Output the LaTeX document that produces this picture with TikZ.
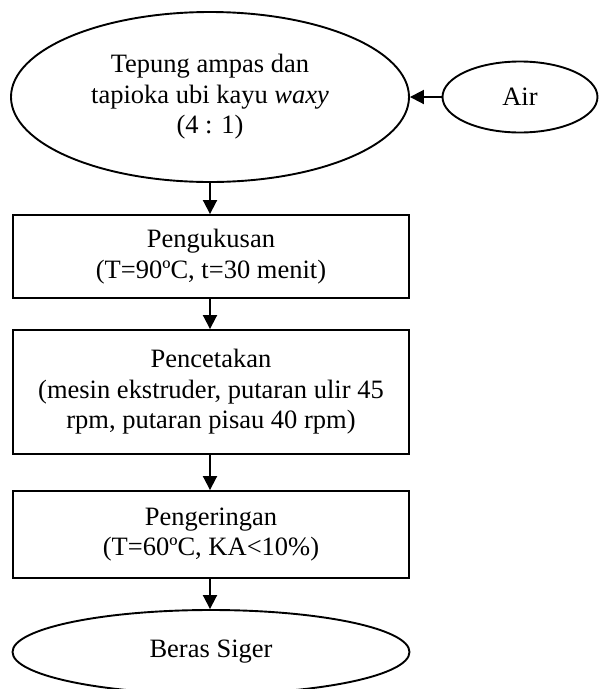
\documentclass[tikz,border=0pt]{standalone}
\usepackage{fontspec}
\setmainfont{Liberation Serif}
\usetikzlibrary{shapes.geometric,arrows.meta}
\begin{document}
\begin{tikzpicture}[x=1pt,y=1pt,
  every node/.style={font=\fontsize{26.5}{30.5}\selectfont, align=center, inner sep=0pt, line width=1.9pt},
  ell/.style={ellipse, draw},
  box/.style={rectangle, draw, minimum width=396pt},
  arr/.style={line width=1.9pt, -{Triangle[length=14pt,width=14pt]}}]
\useasboundingbox (0,0) rectangle (600,-689);
\node[ell, minimum width=398pt, minimum height=170pt] (raw) at (210,-97) {Tepung ampas dan\\tapioka ubi kayu \textit{waxy}\\(4 : 1)};
\node[ell, minimum width=155pt, minimum height=71pt] (air) at (520,-97) {Air};
\node[box, minimum height=83pt] (kukus) at (211,-256.5) {Pengukusan\\(T=90ºC, t=30 menit)};
\node[box, minimum height=124pt] (cetak) at (211,-392) {Pencetakan\\(mesin ekstruder, putaran ulir 45\\rpm, putaran pisau 40 rpm)};
\node[box, minimum height=87pt] (kering) at (211,-534.5) {Pengeringan\\(T=60ºC, KA<10\%)};
\node[ell, minimum width=397pt, minimum height=84pt] (beras) at (211,-652) {Beras Siger};
\draw[arr] (air.west) -- (raw.east);
\draw[arr] (raw.south) -- (raw.south |- kukus.north);
\draw[arr] (kukus.south -| raw.south) -- (raw.south |- cetak.north);
\draw[arr] (cetak.south -| raw.south) -- (raw.south |- kering.north);
\draw[arr] (kering.south -| raw.south) -- (raw.south |- beras.north);
\end{tikzpicture}
\end{document}
